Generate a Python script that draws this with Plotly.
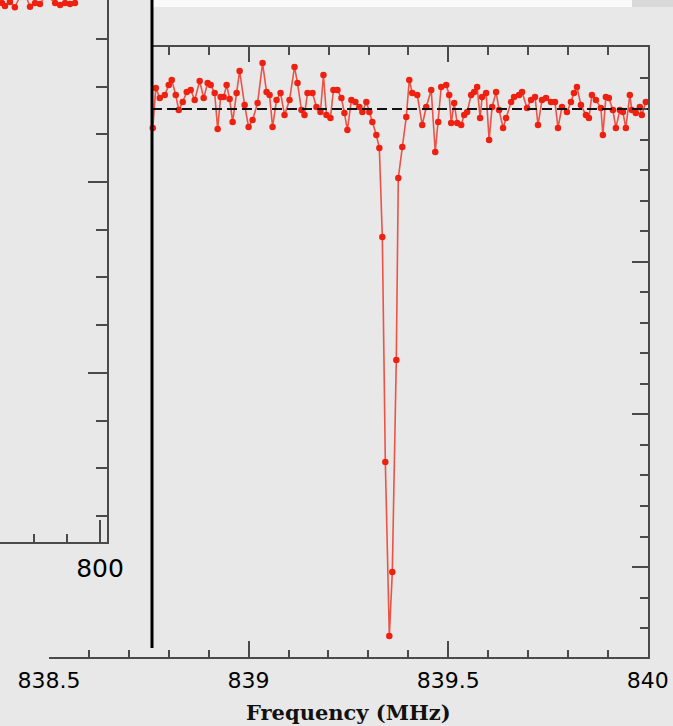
import plotly.graph_objects as go

# ---------------- data (right panel: spectrum around 839.35 MHz) ----------------
freq_mhz = [
    838.7600, 838.7675, 838.7775, 838.7900, 838.8000, 838.8075, 838.8175, 838.8250,
    838.8350, 838.8450, 838.8550, 838.8650, 838.8775, 838.8875, 838.8975, 838.9050,
    838.9150, 838.9225, 838.9300, 838.9375, 838.9450, 838.9525, 838.9600, 838.9700,
    838.9775, 838.9900, 839.0000, 839.0100, 839.0225, 839.0350, 839.0450, 839.0525,
    839.0600, 839.0700, 839.0800, 839.0900, 839.1025, 839.1150, 839.1225, 839.1325,
    839.1400, 839.1475, 839.1600, 839.1700, 839.1800, 839.1875, 839.1950, 839.2050,
    839.2125, 839.2225, 839.2325, 839.2400, 839.2475, 839.2575, 839.2675, 839.2775,
    839.2850, 839.2950, 839.3025, 839.3100, 839.3200, 839.3275, 839.3350, 839.3425,
    839.3525, 839.3600, 839.3700, 839.3750, 839.3850, 839.3950, 839.4025, 839.4100,
    839.4225, 839.4350, 839.4450, 839.4575, 839.4675, 839.4750, 839.4825, 839.4950,
    839.5025, 839.5075, 839.5150, 839.5225, 839.5325, 839.5400, 839.5475, 839.5575,
    839.5650, 839.5725, 839.5800, 839.5850, 839.5950, 839.6025, 839.6100, 839.6200,
    839.6275, 839.6375, 839.6450, 839.6575, 839.6650, 839.6775, 839.6850, 839.6975,
    839.7075, 839.7175, 839.7250, 839.7350, 839.7450, 839.7575, 839.7675, 839.7750,
    839.7850, 839.7975, 839.8075, 839.8150, 839.8225, 839.8325, 839.8450, 839.8525,
    839.8600, 839.8700, 839.8825, 839.8875, 839.8950, 839.9025, 839.9125, 839.9200,
    839.9300, 839.9375, 839.9450, 839.9550, 839.9600, 839.9700, 839.9800, 839.9850,
    839.9950,
]
flux = [
    0.9876, 1.0138, 1.0072, 1.0092, 1.0157, 1.0190, 1.0092, 0.9993,
    1.0046, 1.0111, 1.0124, 1.0059, 1.0183, 1.0072, 1.0170, 1.0157,
    1.0105, 0.9869, 1.0079, 1.0079, 1.0157, 1.0066, 0.9915, 1.0105,
    1.0249, 1.0026, 0.9882, 0.9928, 1.0039, 1.0301, 1.0111, 1.0092,
    0.9882, 1.0059, 1.0105, 0.9961, 1.0059, 1.0275, 1.0170, 0.9993,
    0.9961, 1.0105, 1.0105, 1.0013, 0.9980, 1.0223, 0.9961, 0.9941,
    1.0124, 1.0124, 1.0072, 0.9974, 0.9862, 1.0059, 1.0046, 1.0013,
    0.9980, 1.0046, 0.9980, 0.9915, 0.9830, 0.9745, 0.9162, 0.7688,
    0.6548, 0.6967, 0.8356, 0.9548, 0.9751, 0.9948, 1.0190, 1.0105,
    1.0092, 0.9895, 1.0013, 1.0124, 0.9718, 0.9915, 1.0144, 1.0157,
    1.0092, 0.9908, 1.0039, 0.9908, 0.9895, 0.9961, 0.9980, 1.0092,
    1.0111, 1.0144, 0.9941, 1.0079, 1.0105, 0.9797, 1.0013, 1.0111,
    0.9993, 0.9876, 0.9941, 1.0046, 1.0079, 1.0092, 1.0111, 1.0007,
    1.0059, 1.0079, 0.9895, 1.0059, 1.0072, 1.0046, 1.0046, 0.9876,
    1.0013, 0.9980, 1.0046, 1.0105, 1.0144, 1.0026, 0.9961, 0.9941,
    1.0092, 1.0059, 1.0007, 0.9830, 1.0079, 1.0072, 0.9993, 0.9876,
    0.9993, 0.9980, 0.9876, 1.0092, 0.9993, 0.9974, 1.0013, 0.9961,
    1.0046,
]
continuum_level = [1.0, 1.0]
continuum_freq = [838.7575, 840.0]

x_tickvals = [838.5, 839.0, 839.5, 840.0]
x_ticktext = ["838.5", "839", "839.5", "840"]

# ---------------- data (left panel, only its lower right corner is visible) ----------------
left_x = [770.3, 771.2, 772.7, 774.2, 775.8, 777.3, 778.8, 780.3, 781.8, 783.6,
          786.4, 787.9, 789.4, 790.9, 792.4, 793.9]
left_y = [0.9937, 0.9922, 0.9943, 0.9915, 0.9975, 0.9985, 0.9918, 0.9937, 0.9932, 0.9980,
          0.9937, 0.9927, 0.9937, 0.9932, 0.9937, 0.9985]
left_tickvals = [800]
left_ticktext = ["800"]

# ---------------- styling ----------------
W, H = 673, 726
BG = "#e8e8e8"
AX = "#4a4a4a"
RED = "#ee2010"


def px(x):
    return x / W


def py(y):
    return 1 - y / H


fig = go.Figure()

fig.add_trace(go.Scatter(
    x=left_x, y=left_y, xaxis="x3", yaxis="y3", mode="lines+markers",
    line=dict(color="rgba(238,32,16,0.75)", width=1.5),
    marker=dict(color=RED, size=6.5), showlegend=False, hoverinfo="skip"))

fig.add_trace(go.Scatter(
    x=continuum_freq, y=continuum_level, xaxis="x2", yaxis="y", mode="lines",
    line=dict(color="#111111", width=2, dash="10px,5px"), showlegend=False,
    hoverinfo="skip"))

fig.add_trace(go.Scatter(
    x=freq_mhz, y=flux, xaxis="x", yaxis="y", mode="lines+markers",
    line=dict(color="rgba(238,32,16,0.75)", width=1.6),
    marker=dict(color=RED, size=6.5), showlegend=False, hoverinfo="skip"))

tickfont = dict(family="DejaVu Sans", size=22, color="#000000")

fig.update_layout(
    width=W, height=H,
    margin=dict(l=0, r=0, t=0, b=0, autoexpand=False),
    paper_bgcolor=BG, plot_bgcolor="rgba(0,0,0,0)",
    xaxis=dict(
        domain=[px(49), px(648)], range=[838.5, 840.0005], anchor="y", automargin=False,
        showline=True, linecolor=AX, linewidth=2, mirror=False,
        ticks="inside", ticklen=16, tickwidth=1.5, tickcolor=AX,
        tickmode="array", tickvals=x_tickvals, ticktext=x_ticktext,
        minor=dict(tickmode="linear", tick0=838.5, dtick=0.1, ticks="inside", ticklen=7,
                   tickwidth=1.5, tickcolor=AX, showgrid=False),
        showgrid=False, zeroline=False, tickfont=tickfont, ticklabelstandoff=3,
    ),
    xaxis2=dict(
        domain=[px(152), px(648)], range=[838.7575, 840.0], anchor="y", side="top",
        automargin=False,
        showline=True, linecolor=AX, linewidth=2,
        ticks="inside", ticklen=15, tickwidth=1.5, tickcolor=AX,
        tick0=838.5, dtick=0.5, showticklabels=False,
        minor=dict(dtick=0.1, ticks="inside", ticklen=8, tickwidth=1.5, tickcolor=AX, showgrid=False),
        showgrid=False, zeroline=False,
    ),
    yaxis=dict(
        domain=[py(657), py(47)], range=[0.6411, 1.0406], anchor="x", side="right",
        automargin=False,
        showline=True, linecolor=AX, linewidth=2,
        ticks="inside", ticklen=16, tickwidth=1.5, tickcolor=AX,
        tick0=1.0, dtick=0.1, showticklabels=False,
        minor=dict(dtick=0.02, ticks="inside", ticklen=8, tickwidth=1.5, tickcolor=AX, showgrid=False),
        showgrid=False, zeroline=False,
    ),
    xaxis3=dict(
        domain=[0, px(107)], range=[769.7, 802.1], anchor="y3", automargin=False,
        showline=True, linecolor=AX, linewidth=2,
        ticks="inside", ticklen=22, tickwidth=1.5, tickcolor=AX,
        tickmode="array", tickvals=left_tickvals, ticktext=left_ticktext,
        minor=dict(tickmode="linear", tick0=800, dtick=10, ticks="inside", ticklen=8,
                   tickwidth=1.5, tickcolor=AX, showgrid=False),
        showgrid=False, zeroline=False,
        tickfont=dict(family="DejaVu Sans", size=25, color="#000000"), ticklabelstandoff=3,
    ),
    yaxis3=dict(
        domain=[py(542), 1.0], range=[0.7115, 0.9953], anchor="x3", side="right",
        automargin=False,
        showline=True, linecolor=AX, linewidth=2,
        ticks="inside", ticklen=19, tickwidth=1.5, tickcolor=AX,
        tick0=0.8, dtick=0.1, showticklabels=False,
        minor=dict(dtick=0.025, ticks="inside", ticklen=11, tickwidth=1.5, tickcolor=AX, showgrid=False),
        showgrid=False, zeroline=False,
    ),
    shapes=[
        dict(type="rect", xref="paper", yref="paper", x0=px(152), x1=px(632), y0=py(7), y1=1,
             fillcolor="#fafafa", line=dict(width=0), layer="below"),
        dict(type="rect", xref="paper", yref="paper", x0=px(632), x1=1, y0=py(7), y1=1,
             fillcolor="#d9d9d9", line=dict(width=0), layer="below"),
        dict(type="line", xref="paper", yref="paper", x0=px(152), x1=px(152), y0=py(648), y1=1,
             line=dict(color="#000000", width=3)),
    ],
    annotations=[
        dict(text="<b>Frequency (MHz)</b>", xref="paper", yref="paper", x=px(348), y=py(712),
             showarrow=False, font=dict(family="DejaVu Serif", size=21, color="#111111"),
             xanchor="center", yanchor="middle"),
    ],
)

fig.write_html("out.html")
